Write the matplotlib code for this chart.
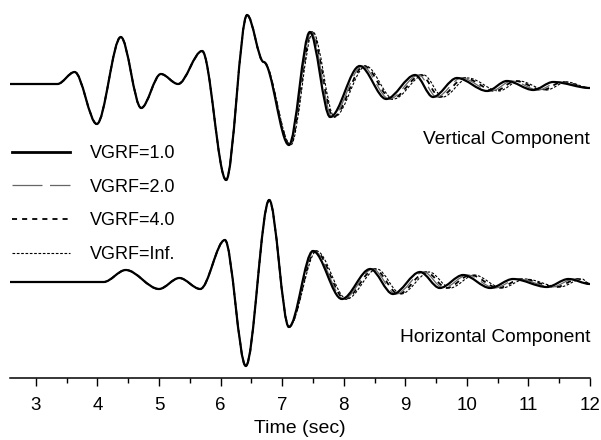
import matplotlib
matplotlib.use("Agg")
import matplotlib.pyplot as plt
from matplotlib.path import Path
from matplotlib.patches import PathPatch
from matplotlib.lines import Line2D
from matplotlib.ticker import MultipleLocator

plt.rcParams['font.family'] = ['Liberation Sans', 'DejaVu Sans']

# extrema of the traces (time in s, amplitude in arbitrary units)
vert_t = [2.58, 3.35, 3.63, 3.99, 4.38, 4.71, 5.03, 5.31, 5.70, 6.09, 6.43, 6.70,
          7.11, 7.45, 7.78, 8.26, 8.69, 9.16, 9.45, 9.84, 10.33, 10.65, 11.08, 11.40, 12.0]
vert_a = [0, 0, 12, -40, 47, -24, 10, 0, 33, -96, 69, 22,
          -61, 52, -33, 18, -15, 9, -13, 6, -7, 3, -6, 2, -4]

horz_t = [2.58, 4.10, 4.46, 5.00, 5.33, 5.67, 6.07, 6.41, 6.79, 7.11,
          7.50, 7.97, 8.43, 8.80, 9.24, 9.56, 9.94, 10.38, 10.75, 11.30, 11.65, 12.0]
horz_a = [0, 0, 12, -7, 4, -7, 42, -84, 82, -45,
          31, -17, 13, -12, 10, -6, 7, -6, 3, -5, 3, -2]

# time lag of the later wiggles for each VGRF value (s)
vert_lag = {
    '1.0': [0.0] * 25,
    '2.0': [0.0] * 12 + [0.01, 0.02, 0.03, 0.04, 0.05, 0.06, 0.06, 0.07, 0.07, 0.08, 0.08, 0.09, 0.0],
    '4.0': [0.0] * 12 + [0.02, 0.03, 0.05, 0.07, 0.09, 0.10, 0.11, 0.12, 0.13, 0.14, 0.15, 0.15, 0.0],
    'Inf.': [0.0] * 12 + [0.03, 0.05, 0.07, 0.10, 0.12, 0.14, 0.16, 0.18, 0.19, 0.20, 0.21, 0.22, 0.0],
}
horz_lag = {
    '1.0': [0.0] * 22,
    '2.0': [0.0] * 10 + [0.02, 0.03, 0.04, 0.05, 0.06, 0.06, 0.07, 0.07, 0.08, 0.08, 0.09, 0.0],
    '4.0': [0.0] * 10 + [0.04, 0.05, 0.07, 0.09, 0.10, 0.11, 0.12, 0.13, 0.14, 0.15, 0.15, 0.0],
    'Inf.': [0.0] * 10 + [0.06, 0.08, 0.11, 0.13, 0.15, 0.17, 0.18, 0.19, 0.20, 0.21, 0.22, 0.0],
}

labels = ['1.0', '2.0', '4.0', 'Inf.']
styles = {
    '1.0': dict(color='black', lw=1.6, ls='-'),
    '2.0': dict(color='0.4', lw=0.9, ls=(0, (24, 6))),
    '4.0': dict(color='black', lw=1.3, ls=(0, (2.8, 2.8))),
    'Inf.': dict(color='black', lw=0.8, ls=(0, (2.4, 1.5))),
}

vert_base = -84
horz_base = -282


def wave(ts, amps, base):
    verts = [(ts[0], base + amps[0])]
    codes = [Path.MOVETO]
    for i in range(1, len(ts)):
        t0, t1 = ts[i - 1], ts[i]
        y0, y1 = base + amps[i - 1], base + amps[i]
        d = (t1 - t0) / 3.0
        verts += [(t0 + d, y0), (t1 - d, y1), (t1, y1)]
        codes += [Path.CURVE4] * 3
    return Path(verts, codes)


fig = plt.figure(figsize=(6.01, 4.4), dpi=100)
ax = fig.add_axes([10 / 601, 62 / 440, 580 / 601, 378 / 440])
ax.set_xlim(2.58, 12)
ax.set_ylim(-378, 0)

for lab in ['Inf.', '4.0', '2.0', '1.0']:
    st = styles[lab]
    vt = [t + l for t, l in zip(vert_t, vert_lag[lab])]
    ht = [t + l for t, l in zip(horz_t, horz_lag[lab])]
    for p in (wave(vt, vert_a, vert_base), wave(ht, horz_a, horz_base)):
        ax.add_patch(PathPatch(p, fill=False, edgecolor=st['color'],
                               lw=st['lw'], ls=st['ls'], capstyle='butt'))

handles = [Line2D([], [], **styles[lab]) for lab in labels]
handles[0].set_linewidth(2.0)
ax.legend(handles, ['VGRF=' + lab for lab in labels], loc='upper left',
          bbox_to_anchor=(12 / 601, 1 - 145 / 440), bbox_transform=fig.transFigure,
          frameon=False, fontsize=13, handlelength=3.2, handletextpad=1.1,
          labelspacing=0.92, borderpad=0, borderaxespad=0)

ax.text(12, -139, 'Vertical Component', ha='right', va='center', fontsize=13.8)
ax.text(12, -337, 'Horizontal Component', ha='right', va='center', fontsize=13.8)

for s in ['left', 'top', 'right']:
    ax.spines[s].set_visible(False)
ax.spines['bottom'].set_linewidth(1.1)
ax.set_yticks([])
ax.set_xticks(range(3, 13))
ax.xaxis.set_minor_locator(MultipleLocator(0.5))
ax.tick_params(axis='x', which='major', length=5.8, width=1, direction='out',
               labelsize=13.5, pad=8)
ax.tick_params(axis='x', which='minor', length=3.6, width=1, direction='out')
ax.set_xlabel('Time (sec)', fontsize=14, labelpad=4)

fig.savefig('out.png', dpi=100)
